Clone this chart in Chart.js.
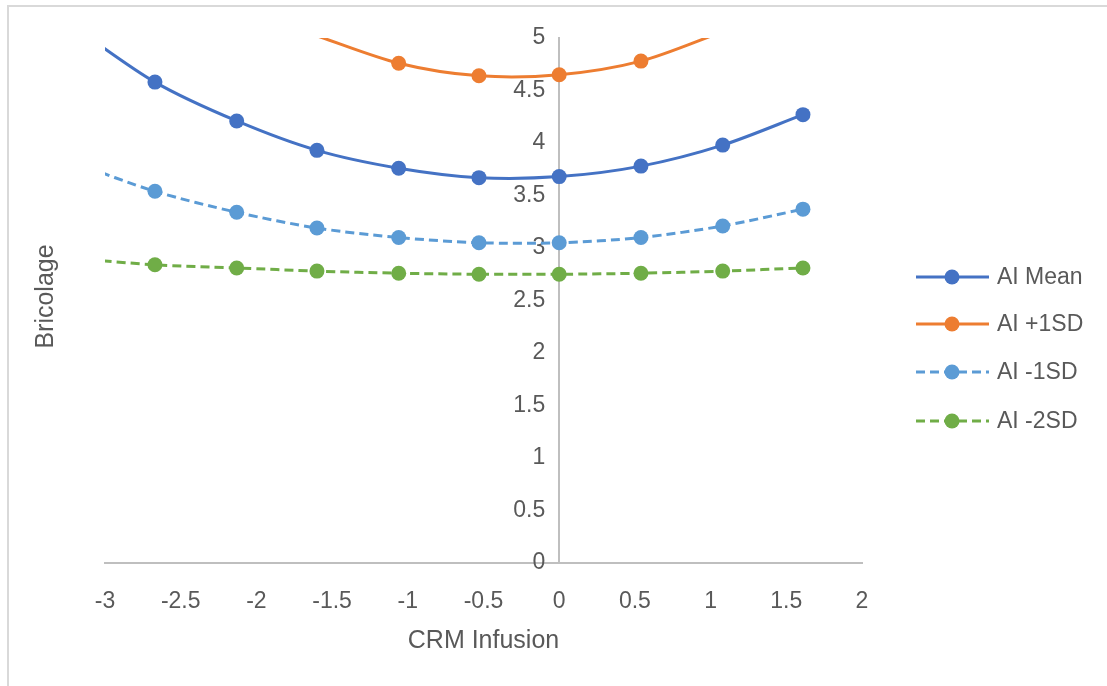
<!DOCTYPE html>
<html>
<head>
<meta charset="utf-8">
<title>Bricolage by CRM Infusion</title>
<script src="https://cdn.jsdelivr.net/npm/chart.js@4.4.1/dist/chart.umd.min.js"></script>
<style>
  html, body { margin: 0; padding: 0; background: #fff; }
  #wrap { position: relative; width: 1107px; height: 686px; overflow: hidden; }
  #frame { position: absolute; left: 7px; top: 5px; right: -10px; bottom: -10px;
           border-top: 2px solid #d9d9d9; border-left: 2px solid #d9d9d9; }
  canvas { position: absolute; left: 0; top: 0; }
</style>
</head>
<body>
<div id="wrap">
  <div id="frame"></div>
  <canvas id="chart" width="1107" height="686"></canvas>
</div>
<script>
// values
const crmInfusion = [-3.2, -2.67, -2.13, -1.6, -1.06, -0.53, 0, 0.54, 1.08, 1.61];
const aiMean   = [5.10, 4.58, 4.21, 3.93, 3.76, 3.67, 3.68, 3.78, 3.98, 4.27];
const aiPlus1  = [null, null, null, 5.02, 4.76, 4.64, 4.65, 4.78, 5.06, null];
const aiMinus1 = [3.81, 3.54, 3.34, 3.19, 3.10, 3.05, 3.05, 3.10, 3.21, 3.37];
const aiMinus2 = [2.90, 2.84, 2.81, 2.78, 2.76, 2.75, 2.75, 2.76, 2.78, 2.81];
const seriesNames = ["AI Mean", "AI +1SD", "AI -1SD", "AI -2SD"];

const X_MIN = -3, X_MAX = 2, Y_MIN = 0, Y_MAX = 5;
const textColor = "#595959";
const fontFamily = "'Liberation Sans', Arial, sans-serif";

function toPoints(ys) {
  return crmInfusion.map((x, i) => ({ x: x, y: ys[i] }));
}

// Excel shows 5, 4.5, -3 ... without trailing zeros
function plainNumber(v) {
  return String(Number(v.toFixed(2)));
}

// hide markers that fall outside the plot area (Excel clips them)
function markerRadius(ctx) {
  const v = ctx.raw;
  if (!v || v.y == null) return 0;
  return (v.x < X_MIN || v.x > X_MAX || v.y > Y_MAX) ? 0 : 7.5;
}

function makeSeries(label, values, color, dash) {
  return {
    label: label,
    data: toPoints(values),
    showLine: true,
    borderColor: color,
    backgroundColor: color,
    borderWidth: 3,
    borderDash: dash || [],
    tension: 0.3,
    pointRadius: markerRadius,
    pointHoverRadius: markerRadius,
    pointBorderWidth: 0,
    clip: 0
  };
}

// the y axis is drawn at x = 0, where Chart.js puts the labels flush
// against the line; push them a little to the left
const yLabelGap = {
  id: "yLabelGap",
  beforeDraw(chart) {
    chart.scales.y.getLabelItems().forEach(item => {
      if (!item._shifted) {
        item.options.translation[0] -= 14;
        item._shifted = true;
      }
    });
  }
};

// Excel-style legend: short line with marker in the middle
const sideLegend = {
  id: "sideLegend",
  afterDraw(chart) {
    const c = chart.ctx;
    const rows = [277, 324, 372, 421];
    chart.data.datasets.forEach((ds, i) => {
      const y = rows[i];
      c.save();
      c.strokeStyle = ds.borderColor;
      c.lineWidth = 3;
      c.setLineDash(ds.borderDash);
      c.beginPath();
      c.moveTo(916, y);
      c.lineTo(989, y);
      c.stroke();
      c.setLineDash([]);
      c.fillStyle = ds.backgroundColor;
      c.beginPath();
      c.arc(952, y, 7.5, 0, Math.PI * 2);
      c.fill();
      c.fillStyle = textColor;
      c.font = "23px " + fontFamily;
      c.textBaseline = "middle";
      c.textAlign = "left";
      c.fillText(ds.label, 997, y + 1);
      c.restore();
    });
  }
};

// y axis title sits at the far left, away from the axis drawn at x = 0
const yTitle = {
  id: "yTitle",
  afterDraw(chart) {
    const c = chart.ctx;
    const area = chart.chartArea;
    c.save();
    c.translate(46, (area.top + area.bottom) / 2 - 4);
    c.rotate(-Math.PI / 2);
    c.fillStyle = textColor;
    c.font = "25px " + fontFamily;
    c.textAlign = "center";
    c.textBaseline = "middle";
    c.fillText("Bricolage", 0, 0);
    c.restore();
  }
};

new Chart(document.getElementById("chart"), {
  type: "scatter",
  data: {
    datasets: [
      makeSeries(seriesNames[0], aiMean, "#4472C4"),
      makeSeries(seriesNames[1], aiPlus1, "#ED7D31"),
      makeSeries(seriesNames[2], aiMinus1, "#5B9BD5", [9, 5]),
      makeSeries(seriesNames[3], aiMinus2, "#70AD47", [9, 5])
    ]
  },
  options: {
    responsive: false,
    devicePixelRatio: 1,
    animation: false,
    layout: { padding: { left: 105, top: 38, right: 245, bottom: 0 } },
    plugins: {
      legend: { display: false },
      tooltip: { enabled: false }
    },
    scales: {
      x: {
        type: "linear",
        min: X_MIN,
        max: X_MAX,
        ticks: { stepSize: 0.5, color: textColor, padding: 25,
                 font: { family: fontFamily, size: 23 },
                 callback: plainNumber },
        grid: { display: false, drawTicks: false },
        border: { color: "#bfbfbf", width: 2 },
        title: { display: true, text: "CRM Infusion", color: textColor,
                 font: { family: fontFamily, size: 25 },
                 padding: { top: 0, bottom: 30 } },
        afterFit(scale) { scale.height = 686 - 563; }
      },
      y: {
        type: "linear",
        min: Y_MIN,
        max: Y_MAX,
        position: { x: 0 },
        ticks: { stepSize: 0.5, color: textColor,
                 font: { family: fontFamily, size: 23 },
                 callback: plainNumber },
        grid: { display: false, drawTicks: false },
        border: { color: "#bfbfbf", width: 2 }
      }
    }
  },
  plugins: [yLabelGap, sideLegend, yTitle]
});
</script>
</body>
</html>
